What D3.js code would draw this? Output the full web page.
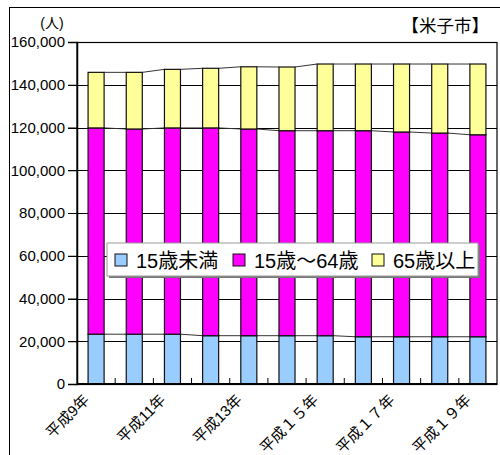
<!DOCTYPE html>
<html>
<head>
<meta charset="utf-8">
<script src="https://cdn.jsdelivr.net/npm/d3@7"></script>
<style>
  body { margin: 0; background: #fff; }
  svg text { font-family: "Liberation Sans", "Noto Sans CJK JP", Arial, sans-serif; }
</style>
</head>
<body>
<div id="chart"></div>
<script>
// 年度
const years = ["平成9年", "平成10年", "平成11年", "平成12年", "平成13年", "平成14年",
  "平成１５年", "平成１６年", "平成１７年", "平成１８年", "平成１９年"];
const shownYears = ["平成9年", "平成11年", "平成13年", "平成１５年", "平成１７年", "平成１９年"];
// 年齢3区分人口
const under15 = [23300, 23300, 23300, 22600, 22600, 22600, 22600, 22100, 22100, 22100, 22100];
const age15to64 = [96500, 96000, 96500, 97200, 96700, 95900, 95900, 96400, 95800, 95300, 94500];
const over65 = [26000, 26500, 27400, 27900, 29100, 29800, 31200, 31200, 31800, 32300, 33100];
const seriesNames = ["15歳未満", "15歳～64歳", "65歳以上"];
const colors = ["#99CCFF", "#FF00FF", "#FFFF99"];
const yTicks = [0, 20000, 40000, 60000, 80000, 100000, 120000, 140000, 160000];

const W = 500, H = 455;
const plot = { left: 77, top: 42, right: 497, bottom: 384 };

const svg = d3.select("#chart").append("svg")
  .attr("width", W).attr("height", H);

// 外枠
svg.append("rect")
  .attr("x", 9.5).attr("y", 7.5)
  .attr("width", 500).attr("height", 470)
  .attr("fill", "#fff").attr("stroke", "#000").attr("stroke-width", 1);

const x = d3.scaleBand()
  .domain(years)
  .range([plot.left, plot.right])
  .paddingInner(0.58).paddingOuter(0.29);

const y = d3.scaleLinear()
  .domain([0, 160000])
  .range([plot.bottom, plot.top]);

// 積み上げ
const table = years.map((yr, i) => ({ year: yr, s0: under15[i], s1: age15to64[i], s2: over65[i] }));
const stacked = d3.stack().keys(["s0", "s1", "s2"])(table);

// グリッド線
svg.append("g")
  .selectAll("line")
  .data(yTicks.slice(1))
  .enter()
  .append("line")
  .attr("x1", plot.left - 9).attr("x2", plot.right)
  .attr("y1", d => Math.round(y(d)) + 0.5).attr("y2", d => Math.round(y(d)) + 0.5)
  .attr("stroke", "#000").attr("stroke-width", 1);

// 区分線（棒の間をつなぐ線）
stacked.forEach(layer => {
  const segs = [];
  for (let i = 0; i < years.length - 1; i++) {
    segs.push([x(years[i]) + x.bandwidth(), layer[i][1], x(years[i + 1]), layer[i + 1][1]]);
  }
  svg.append("g")
    .selectAll("line")
    .data(segs)
    .enter()
    .append("line")
    .attr("x1", d => d[0]).attr("y1", d => y(d[1]))
    .attr("x2", d => d[2]).attr("y2", d => y(d[3]))
    .attr("stroke", "#333").attr("stroke-width", 1);
});

// 棒
svg.append("g")
  .selectAll("g")
  .data(stacked)
  .enter()
  .append("g")
  .attr("fill", (d, i) => colors[i])
  .selectAll("rect")
  .data(d => d)
  .enter()
  .append("rect")
  .attr("x", d => x(d.data.year))
  .attr("y", d => y(d[1]))
  .attr("width", x.bandwidth())
  .attr("height", d => y(d[0]) - y(d[1]))
  .attr("stroke", "#111").attr("stroke-width", 1.2);

// プロット枠
svg.append("rect")
  .attr("x", plot.left).attr("y", plot.top + 0.5)
  .attr("width", plot.right - plot.left).attr("height", plot.bottom - plot.top)
  .attr("fill", "none").attr("stroke", "#000").attr("stroke-width", 1.2);

// Y軸
const yAxis = svg.append("g")
  .attr("transform", "translate(" + plot.left + ",0)")
  .call(d3.axisLeft(y).tickValues(yTicks).tickFormat(d3.format(",")).tickSize(9).tickPadding(3));
yAxis.select(".domain").attr("stroke", "#000").attr("stroke-width", 1.5);
yAxis.selectAll("line").attr("stroke", "#000");
yAxis.selectAll("text").style("font-size", "15px").attr("fill", "#000")
  .attr("font-family", "Liberation Sans, Arial, sans-serif");

// X軸
const xAxis = svg.append("g")
  .attr("transform", "translate(0," + plot.bottom + ")");
xAxis.append("line")
  .attr("x1", plot.left).attr("x2", plot.right)
  .attr("stroke", "#000").attr("stroke-width", 2);
xAxis.selectAll("line.tk")
  .data(d3.range(1, years.length))
  .enter()
  .append("line")
  .attr("class", "tk")
  .attr("x1", i => x(years[i]) - x.step() * x.paddingInner() / 2)
  .attr("x2", i => x(years[i]) - x.step() * x.paddingInner() / 2)
  .attr("y1", 0).attr("y2", -6)
  .attr("stroke", "#000").attr("stroke-width", 1);
xAxis.selectAll("text")
  .data(shownYears)
  .enter()
  .append("text")
  .attr("transform", d => "translate(" + (x(d) + x.bandwidth() / 2 - 6) + ",17) rotate(-45)")
  .attr("text-anchor", "end")
  .style("font-size", "15px")
  .attr("fill", "#000")
  .text(d => d);

// 単位・市名
svg.append("text").attr("x", 52).attr("y", 28)
  .attr("text-anchor", "middle").style("font-size", "14px").text("(人)");
svg.append("text").attr("x", 489).attr("y", 32)
  .attr("text-anchor", "end").style("font-size", "17.5px").text("【米子市】");

// 凡例
const legend = svg.append("g");
legend.append("rect")
  .attr("x", 109).attr("y", 245).attr("width", 371).attr("height", 33)
  .attr("fill", "#777");
legend.append("rect")
  .attr("x", 107).attr("y", 243).attr("width", 371).attr("height", 33)
  .attr("fill", "#fff").attr("stroke", "#999").attr("stroke-width", 1);
const legendX = [115, 233, 372];
seriesNames.forEach((name, i) => {
  legend.append("rect")
    .attr("x", legendX[i]).attr("y", 254).attr("width", 12).attr("height", 12)
    .attr("fill", colors[i]).attr("stroke", "#111").attr("stroke-width", 1);
  legend.append("text")
    .attr("x", legendX[i] + 21).attr("y", 268)
    .style("font-size", "20px").attr("fill", "#000")
    .text(name);
});
</script>
</body>
</html>
